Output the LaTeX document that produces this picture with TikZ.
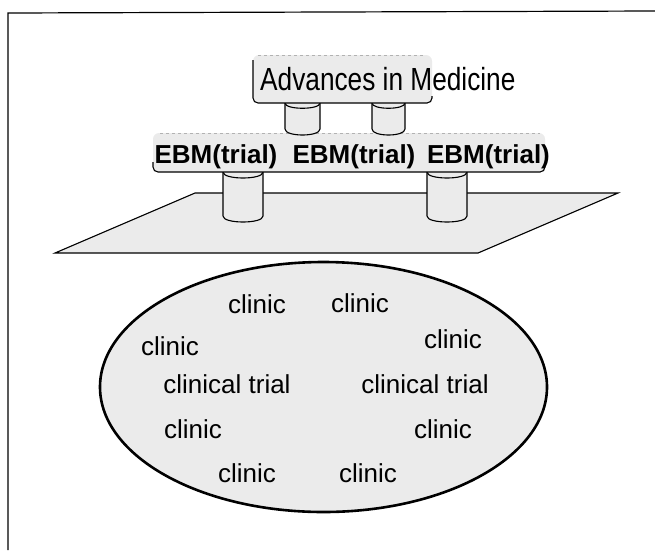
\documentclass[tikz,border=0pt]{standalone}
\usepackage{fontspec}
\setmainfont{Liberation Sans}
\newfontfamily\narrowf[FakeStretch=0.82]{Liberation Sans}
\begin{document}
\begin{tikzpicture}[x=1pt,y=-1pt,
  stip/.style={fill=gray!16},
  outl/.style={draw=black,line width=1.1pt},
  cliniclbl/.style={anchor=base,inner sep=0pt,font=\fontsize{26}{30}\selectfont},
  ebmlbl/.style={anchor=base,inner sep=0pt,font=\fontsize{26}{30}\selectfont\bfseries},
  advlbl/.style={anchor=base west,inner sep=0pt,font=\narrowf\fontsize{32}{36}\selectfont}]
\useasboundingbox (0,0) rectangle (655,550);
% frame
\draw[line width=1.2pt] (655,11) -- (8,13) -- (8,550);
% plane
\path[stip,outl] (195,193) -- (618,193) -- (478,253) -- (55,253) -- cycle;
% big cylinders
\foreach \xl/\xr in {223/263,427/467}{
  \path[stip,outl] (\xl,172) -- (\xl,216) .. controls (\xl,224) and (\xr,224) .. (\xr,216) -- (\xr,172);
  \draw[line width=1.1pt] (\xl,172) .. controls (\xl,180) and (\xr,180) .. (\xr,172);
}
% EBM bar
\fill[gray!16,rounded corners=6pt] (153,133) rectangle (545,172);
\draw[line width=1.1pt,rounded corners=5pt] (153,162) -- (153,172) -- (545,172) -- (545,164);
\draw[gray!60,line width=0.6pt,dashed] (160,133) -- (540,133);
% small cylinders
\foreach \xl/\xr in {285/320,372/405}{
  \path[stip,outl] (\xl,103) -- (\xl,129) .. controls (\xl,137) and (\xr,137) .. (\xr,129) -- (\xr,103);
  \draw[line width=1.1pt] (\xl,103) .. controls (\xl,110) and (\xr,110) .. (\xr,103);
}
% Advances box
\fill[gray!16,rounded corners=6pt] (253,55) rectangle (432,103);
\draw[line width=1.1pt,rounded corners=5pt] (253,60) -- (253,103) -- (432,103) -- (432,96);
\draw[gray!60,line width=0.6pt,dashed] (258,55) -- (425,55);
\node[advlbl] (adv) at (260,90) {Advances in Medicine};
% EBM labels
\node[ebmlbl] (e1) at (216,163) {EBM(trial)};
\node[ebmlbl] (e2) at (354,163) {EBM(trial)};
\node[ebmlbl] (e3) at (488.5,163) {EBM(trial)};
% ellipse
\path[stip,draw=black,line width=2.6pt] (323.5,387) ellipse [x radius=223.5, y radius=125];
% texts
\node[cliniclbl] (c1) at (257,313) {clinic};
\node[cliniclbl] (c2) at (360,312) {clinic};
\node[cliniclbl] (c3) at (170,355) {clinic};
\node[cliniclbl] (c4) at (453,348) {clinic};
\node[cliniclbl] (t1) at (227,393) {clinical trial};
\node[cliniclbl] (t2) at (425,393) {clinical trial};
\node[cliniclbl] (c5) at (193,438) {clinic};
\node[cliniclbl] (c6) at (443,438) {clinic};
\node[cliniclbl] (c7) at (247,482) {clinic};
\node[cliniclbl] (c8) at (368,482) {clinic};
\end{tikzpicture}
\end{document}
